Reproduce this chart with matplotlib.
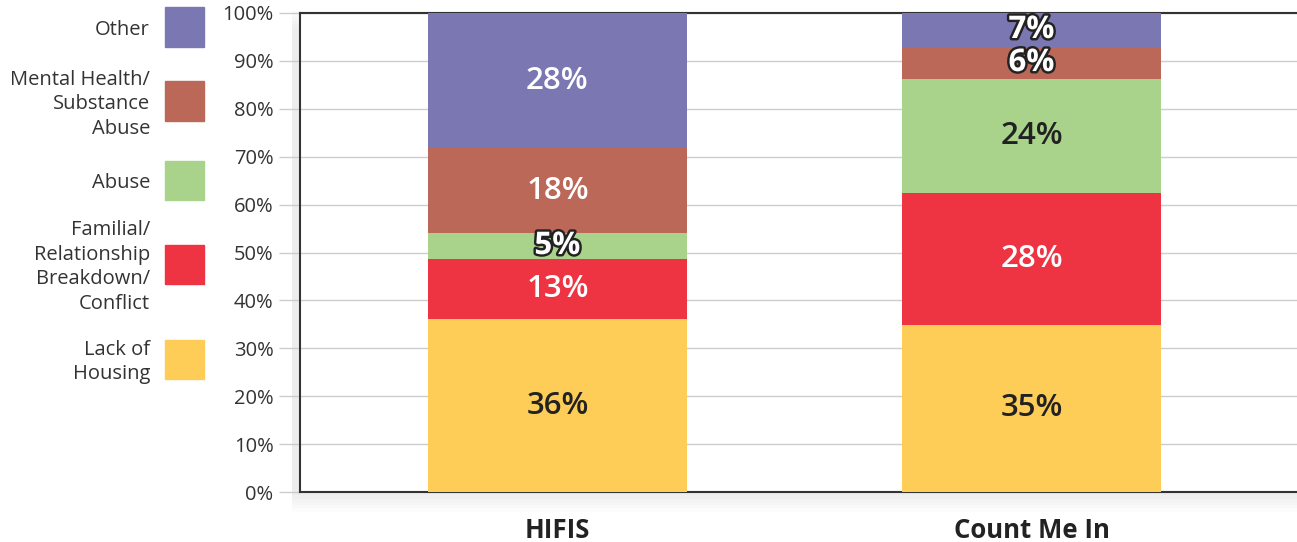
import matplotlib.pyplot as plt
import matplotlib.patheffects as pe
from matplotlib.patches import Rectangle

# data (percent of respondents)
groups = ["HIFIS", "Count Me In"]
reasons = ["Lack of\nHousing", "Familial/\nRelationship\nBreakdown/\nConflict", "Abuse",
           "Mental Health/\nSubstance\nAbuse", "Other"]
hifis = [36.1, 12.6, 5.3, 17.8, 28.2]
count_me_in = [34.9, 27.5, 23.8, 6.7, 7.1]
hifis_labels = ["36%", "13%", "5%", "18%", "28%"]
cmi_labels = ["35%", "28%", "24%", "6%", "7%"]
colors = ["#fdcd57", "#ee3343", "#a9d38b", "#bc6858", "#7b77b2"]
text_colors = ["#222222", "white", "#222222", "white", "white"]
yticks = list(range(0, 101, 10))

plt.rcParams['font.family'] = ['Open Sans', 'DejaVu Sans']

fig = plt.figure(figsize=(12.97, 5.42), dpi=100)
ax = fig.add_axes([300 / 1297, 50 / 542, 997 / 1297, 479 / 542])
ax.set_zorder(2)

# soft drop shadow behind the plot area
for i in range(6):
    fig.patches.append(Rectangle((300 / 1297 - 0.006, 50 / 542 - (i + 1) * 0.006),
                                 1, 479 / 542 + 0.01, transform=fig.transFigure,
                                 color="black", alpha=0.01, zorder=-1, lw=0))

ax.set_facecolor("white")
x = [0, 1]
w = 0.546
series = list(zip(hifis, count_me_in))
labels = list(zip(hifis_labels, cmi_labels))
bottoms = [0, 0]
for k, vals in enumerate(series):
    ax.bar(x, vals, w, bottom=bottoms, color=colors[k], zorder=3, lw=0)
    for j in range(2):
        yc = bottoms[j] + vals[j] / 2
        if vals[j] < 8:
            ax.text(x[j], yc, labels[k][j], ha="center", va="center", fontsize=22.5,
                    fontweight="bold", color="white", zorder=5,
                    path_effects=[pe.withStroke(linewidth=3.5, foreground="#222222")])
        else:
            ax.text(x[j], yc, labels[k][j], ha="center", va="center", fontsize=22.5,
                    fontweight="semibold", color=text_colors[k], zorder=5)
    bottoms = [bottoms[0] + vals[0], bottoms[1] + vals[1]]

ax.set_xlim(-0.543, 1.56)
ax.set_ylim(0, 100)
ax.set_yticks(yticks)
ax.set_yticklabels([f"{t}%" for t in yticks], fontsize=14.5, color="#333333")
ax.tick_params(axis="y", length=15, color="#cccccc", width=1, pad=4)
ax.set_xticks(x)
ax.set_xticklabels(groups, fontsize=18.5, fontweight="bold", color="#222222")
ax.tick_params(axis="x", length=0, pad=18)
ax.grid(axis="y", color="#cccccc", lw=1, zorder=1)
for s in ["left", "bottom", "top"]:
    ax.spines[s].set_color("#333333")
    ax.spines[s].set_linewidth(1.5)
ax.spines["right"].set_visible(False)

# manual legend on the left
leg_y = [359, 264, 180, 101, 27]
for k in range(len(reasons)):
    yc = 1 - leg_y[k] / 542
    fig.patches.append(Rectangle((165 / 1297, yc - 19.5 / 542), 39 / 1297, 39 / 542,
                                 transform=fig.transFigure, color=colors[k]))
    fig.text(150 / 1297, yc - 3 / 542, reasons[k], ha="right", va="center", fontsize=14.5,
             color="#333333", linespacing=1.3)

fig.savefig("out.png", dpi=100)
